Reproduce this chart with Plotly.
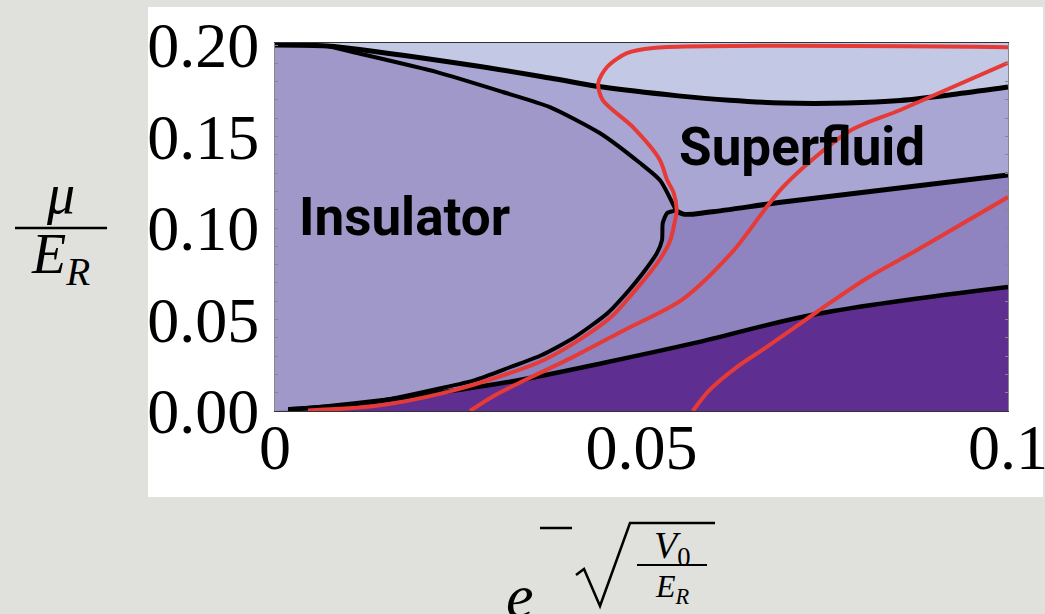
import plotly.graph_objects as go

# ---- phase boundaries (black) ----
# Mott insulator lobe, traced from the top edge round the tip to the bottom edge
ins_x = [0.0071, 0.0106, 0.0221, 0.0311, 0.0375, 0.0443, 0.0498, 0.0525, 0.0542, 0.0546,
         0.0535, 0.0529, 0.0528, 0.0521, 0.0502, 0.0482, 0.0454, 0.0409, 0.0364, 0.0318,
         0.0273, 0.0228, 0.0136, 0.0045, 0.0018]
ins_mu = [0.1995, 0.1962, 0.1852, 0.1743, 0.1661, 0.1519, 0.1355, 0.1262, 0.1137, 0.1098,
          0.1082, 0.1027, 0.0934, 0.0863, 0.0754, 0.0656, 0.0536, 0.0404, 0.0306, 0.0235,
          0.0169, 0.0126, 0.0049, 0.0016, 0.0010]
INS_TIP = 9  # index of the lobe tip in ins_x / ins_mu

# upper superfluid boundary
top_x = [0.0, 0.0071, 0.0098, 0.0266, 0.0375, 0.0447, 0.055, 0.062, 0.0693, 0.078, 0.0853, 0.093, 0.1]
top_mu = [0.2, 0.1995, 0.1984, 0.1891, 0.182, 0.177, 0.1722, 0.1698, 0.1683, 0.1683, 0.1697, 0.1732, 0.177]

# boundary leaving the lobe tip to the right
mid_x = [0.0546, 0.0557, 0.0593, 0.0693, 0.0829, 0.1]
mid_mu = [0.1098, 0.1076, 0.1087, 0.1142, 0.1208, 0.129]

# lowest boundary
low_x = [0.0018, 0.0045, 0.0181, 0.0318, 0.0454, 0.0573, 0.0739, 0.1]
low_mu = [0.0010, 0.0016, 0.0077, 0.0158, 0.0268, 0.0372, 0.0530, 0.0678]

# ---- red contours ----
red1_x = [0.0045, 0.0136, 0.0229, 0.0321, 0.0367, 0.0413, 0.0460, 0.0487, 0.0509, 0.0528, 0.0539,
          0.0545, 0.0548, 0.0544, 0.0535, 0.0525, 0.0488, 0.0447, 0.0441, 0.0453, 0.0480, 0.0516, 0.1]
red1_mu = [0.0003, 0.0027, 0.0098, 0.0208, 0.0279, 0.0383, 0.0519, 0.0639, 0.0743, 0.0847, 0.0930,
           0.1027, 0.1098, 0.1191, 0.1262, 0.1372, 0.1552, 0.1699, 0.1792, 0.1880, 0.1956, 0.1984, 0.1988]

red2_x = [0.0266, 0.0296, 0.0341, 0.0409, 0.0477, 0.0555, 0.0625, 0.0693, 0.0784, 0.0853, 0.1]
red2_mu = [0.0, 0.0077, 0.0169, 0.0300, 0.0443, 0.0607, 0.0874, 0.1224, 0.1530, 0.1645, 0.1902]

red3_x = [0.0570, 0.0593, 0.0630, 0.0671, 0.0739, 0.0808, 0.0876, 0.1]
red3_mu = [0.0, 0.0115, 0.0240, 0.0350, 0.0541, 0.0727, 0.0880, 0.1169]

# ---- axes ----
x_ticks = [0, 0.05, 0.1]
x_ticklabels = ["0", "0.05", "0.1"]
y_ticks = [0, 0.05, 0.1, 0.15, 0.2]
y_ticklabels = ["0.00", "0.05", "0.10", "0.15", "0.20"]

# ---- colours ----
C_INS = "#9f98c9"
C_SF = "#aaa6d4"
C_TOP = "#c3c8e5"
C_MID = "#8f84c0"
C_DARK = "#5f2e91"
C_RED = "#e63a36"
C_BG = "#e0e0dc"

# page geometry (pixels)
W, H = 1045, 614
L, R, T, B = 275, 1008, 43, 411
Y_TOP = 0.2 * (B - T) / (B - 45)


def px(x):
    return (x - L) / (R - L)


def py(y):
    return (B - y) / (B - T)


fig = go.Figure()

# dark region under the lowest boundary
fig.add_trace(go.Scatter(x=low_x, y=low_mu, mode="lines", line=dict(width=0, shape="spline"),
                         fill="tozeroy", fillcolor=C_DARK, hoverinfo="skip"))

# superfluid band: between the upper boundary and (lobe top + right branch)
sf_low_x = ins_x[:INS_TIP] + mid_x
sf_low_mu = ins_mu[:INS_TIP] + mid_mu
fig.add_trace(go.Scatter(x=sf_low_x, y=sf_low_mu, mode="lines",
                         line=dict(width=0, shape="spline", smoothing=0.7), hoverinfo="skip"))
fig.add_trace(go.Scatter(x=top_x, y=top_mu, mode="lines", line=dict(width=0, shape="spline"),
                         fill="tonexty", fillcolor=C_SF, hoverinfo="skip"))
# light band above the upper boundary
fig.add_trace(go.Scatter(x=[0, 0.1], y=[Y_TOP, Y_TOP], mode="lines", line=dict(width=0),
                         fill="tonexty", fillcolor=C_TOP, hoverinfo="skip"))

# insulator lobe
lobe_x = [-0.01, 0.0] + ins_x + [0.0, -0.01]
lobe_mu = [0.21, 0.2] + ins_mu + [0.0, -0.01]
fig.add_trace(go.Scatter(x=lobe_x, y=lobe_mu, mode="lines",
                         line=dict(width=0, shape="spline", smoothing=0.6),
                         fill="toself", fillcolor=C_INS, hoverinfo="skip"))

# black boundaries
for xs, ys, w, sm in [(top_x, top_mu, 5, 1.0), (ins_x, ins_mu, 4, 0.6),
                      (mid_x, mid_mu, 5, 1.0), (low_x, low_mu, 4.5, 1.0)]:
    fig.add_trace(go.Scatter(x=xs, y=ys, mode="lines",
                             line=dict(color="black", width=w, shape="spline", smoothing=sm),
                             hoverinfo="skip"))

# red contours
for xs, ys in [(red1_x, red1_mu), (red2_x, red2_mu), (red3_x, red3_mu)]:
    fig.add_trace(go.Scatter(x=xs, y=ys, mode="lines",
                             line=dict(color=C_RED, width=4, shape="spline", smoothing=0.8),
                             hoverinfo="skip"))

serif = "Liberation Serif, Times New Roman, serif"
label_font = dict(family="Liberation Sans Narrow, Arial Narrow, Roboto, sans-serif",
                  size=53, color="black", weight="bold")

shapes = []
# grey page around the white panel
for x0, y0, x1, y1 in [(0, 0, 148, H), (1043, 0, W, H), (0, 0, W, 7), (0, 497, W, H)]:
    shapes.append(dict(type="rect", xref="paper", yref="paper", layer="below",
                       x0=px(x0), x1=px(x1), y0=py(y1), y1=py(y0),
                       fillcolor=C_BG, line=dict(width=0)))
# fraction bar of the y label
shapes.append(dict(type="line", xref="paper", yref="paper",
                   x0=px(15), x1=px(107), y0=py(228), y1=py(228),
                   line=dict(color="black", width=2.5)))
# minus sign, radical and fraction bar of the x label
shapes.append(dict(type="line", xref="paper", yref="paper",
                   x0=px(540), x1=px(572), y0=py(528), y1=py(528),
                   line=dict(color="black", width=2.5)))
rad = [(576, 575), (584, 569), (600, 606), (630, 523), (715, 523)]
shapes.append(dict(type="path", xref="paper", yref="paper",
                   path="M " + " L ".join(f"{px(a):.5f},{py(b):.5f}" for a, b in rad),
                   line=dict(color="black", width=2.5)))
shapes.append(dict(type="line", xref="paper", yref="paper",
                   x0=px(637), x1=px(707), y0=py(565), y1=py(565),
                   line=dict(color="black", width=2)))

annotations = [
    dict(text="Insulator", x=px(297), y=py(217), xanchor="left", yanchor="middle", font=label_font),
    dict(text="Superfluid", x=px(677), y=py(147), xanchor="left", yanchor="middle", font=label_font),
    dict(text="<i>μ</i>", x=px(60), y=py(194), xanchor="center", yanchor="middle",
         font=dict(family=serif, size=56, color="black")),
    dict(text="<i>E</i><sub><i>R</i></sub>", x=px(60), y=py(258), xanchor="center", yanchor="middle",
         font=dict(family=serif, size=56, color="black")),
    dict(text="<i>e</i>", x=px(520), y=py(596), xanchor="center", yanchor="middle",
         font=dict(family=serif, size=62, color="black")),
    dict(text="<i>V</i><sub>0</sub>", x=px(672), y=py(548), xanchor="center", yanchor="middle",
         font=dict(family=serif, size=38, color="black")),
    dict(text="<i>E</i><sub><i>R</i></sub>", x=px(672), y=py(588), xanchor="center", yanchor="middle",
         font=dict(family=serif, size=32, color="black")),
]
for a in annotations:
    a.update(xref="paper", yref="paper", showarrow=False)

fig.update_layout(
    template="none",
    width=W, height=H,
    margin=dict(l=L, r=W - R, t=T, b=H - B, pad=0),
    paper_bgcolor="white",
    plot_bgcolor=C_MID,
    showlegend=False,
    shapes=shapes,
    annotations=annotations,
    xaxis=dict(range=[0, 0.1], tickvals=x_ticks, ticktext=x_ticklabels,
               showgrid=False, zeroline=False, automargin=False,
               showline=True, linecolor="#333", linewidth=1, mirror=True,
               ticks="", ticklabelstandoff=-20, ticklabeloverflow="allow",
               tickfont=dict(family=serif, size=64, color="black")),
    yaxis=dict(range=[0, Y_TOP], tickvals=y_ticks, ticktext=y_ticklabels,
               showgrid=False, zeroline=False, automargin=False,
               showline=True, linecolor="#888", linewidth=1, mirror="ticks",
               ticks="inside", ticklen=3, tickcolor="#888",
               minor=dict(tickvals=[i / 100 for i in range(21)], ticks="inside",
                          ticklen=3, tickcolor="#888"),
               ticklabelstandoff=2, ticklabeloverflow="allow",
               tickfont=dict(family=serif, size=64, color="black")),
)

fig.write_html("out.html")
